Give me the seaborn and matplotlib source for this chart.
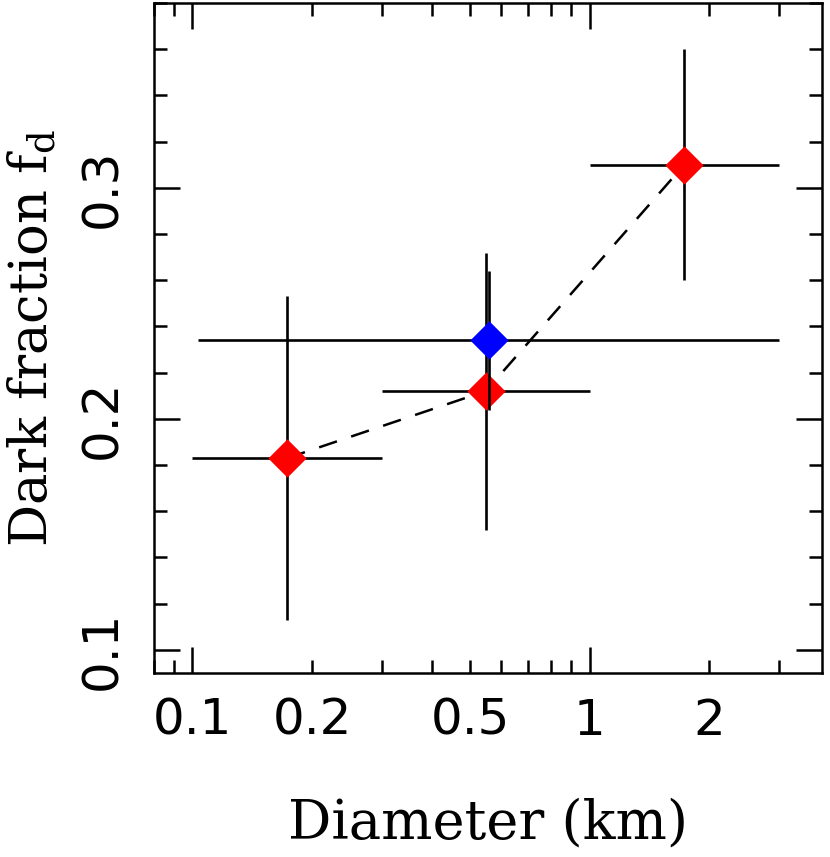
import matplotlib
matplotlib.use("Agg")
import matplotlib.pyplot as plt
import matplotlib.ticker as mticker
import numpy as np
import pandas as pd
import seaborn as sns

# red points (connected by the dashed line)
red_diam = [0.1732, 0.5477, 1.732]
red_dlo = [0.1, 0.3, 1.0]
red_dhi = [0.3, 1.0, 3.0]
red_fd = [0.183, 0.212, 0.310]
red_err = [0.070, 0.060, 0.050]

# blue point
blue_diam = [0.558]
blue_dlo = [0.103]
blue_dhi = [3.0]
blue_fd = [0.234]
blue_err = [0.030]

x_labels = {0.1: "0.1", 0.2: "0.2", 0.5: "0.5", 1.0: "1", 2.0: "2"}

sns.set_style("ticks")
plt.rcParams['font.family'] = ['DejaVu Sans']
plt.rcParams['mathtext.fontset'] = 'dejavuserif'
plt.rcParams['text.color'] = 'black'
plt.rcParams['axes.labelcolor'] = 'black'
plt.rcParams['xtick.labelcolor'] = 'black'
plt.rcParams['ytick.labelcolor'] = 'black'

red_df = pd.DataFrame({'diam': red_diam, 'fd': red_fd})
blue_df = pd.DataFrame({'diam': blue_diam, 'fd': blue_fd})

fig = plt.figure(figsize=(8.3, 8.57), dpi=100)
ax = fig.add_axes([0.1855, 0.2147, 0.8049, 0.7818])

def xerrs(c, lo, hi):
    c = np.array(c)
    return [c - np.array(lo), np.array(hi) - c]

ax.errorbar(red_diam, red_fd, xerr=xerrs(red_diam, red_dlo, red_dhi), yerr=red_err,
            fmt='none', ecolor='black', elinewidth=1.9, capsize=0, zorder=2)
sns.lineplot(data=red_df, x='diam', y='fd', ax=ax, sort=False, estimator=None,
             color='black', lw=1.8, linestyle=(0, (7.5, 6)), zorder=3)
sns.scatterplot(data=red_df, x='diam', y='fd', ax=ax, marker='D', s=19.5**2,
                color='#ff0000', linewidth=0, zorder=4)
ax.errorbar(blue_diam, blue_fd, xerr=xerrs(blue_diam, blue_dlo, blue_dhi), yerr=blue_err,
            fmt='none', ecolor='black', elinewidth=1.9, capsize=0, zorder=5)
sns.scatterplot(data=blue_df, x='diam', y='fd', ax=ax, marker='D', s=19.5**2,
                color='#0000ff', linewidth=0, zorder=6)

ax.set_xscale('log')
ax.set_xlim(0.08, 3.85)
ax.set_ylim(0.09, 0.38)

ax.xaxis.set_major_locator(mticker.FixedLocator([0.1, 1.0]))
ax.xaxis.set_minor_locator(mticker.FixedLocator([0.08, 0.09, 0.2, 0.3, 0.4, 0.5, 0.6, 0.7,
                                                 0.8, 0.9, 2.0, 3.0]))
fmt = mticker.FuncFormatter(lambda v, p: x_labels.get(round(v, 3), ""))
ax.xaxis.set_major_formatter(fmt)
ax.xaxis.set_minor_formatter(fmt)

ax.yaxis.set_major_locator(mticker.FixedLocator([0.1, 0.2, 0.3]))
ax.yaxis.set_minor_locator(mticker.MultipleLocator(0.02))
ax.yaxis.set_major_formatter(mticker.FormatStrFormatter('%.1f'))

for s in ax.spines.values():
    s.set_linewidth(1.8)
    s.set_color('black')

ax.tick_params(which='both', direction='in', top=True, right=True, width=1.8,
               color='black', labelsize=36)
ax.tick_params(which='major', length=19)
ax.tick_params(which='minor', length=9.5)
ax.tick_params(axis='x', which='both', pad=17)
ax.tick_params(axis='y', which='both', pad=20)
for t in ax.get_yticklabels():
    t.set_rotation(90)
    t.set_va('center')

ax.set_xlabel("Diameter (km)", fontsize=39, family='DejaVu Serif', labelpad=38)
ax.set_ylabel("Dark fraction f$_\\mathrm{d}$", fontsize=38, family='DejaVu Serif',
              labelpad=14)

fig.savefig("out.png", dpi=100)
